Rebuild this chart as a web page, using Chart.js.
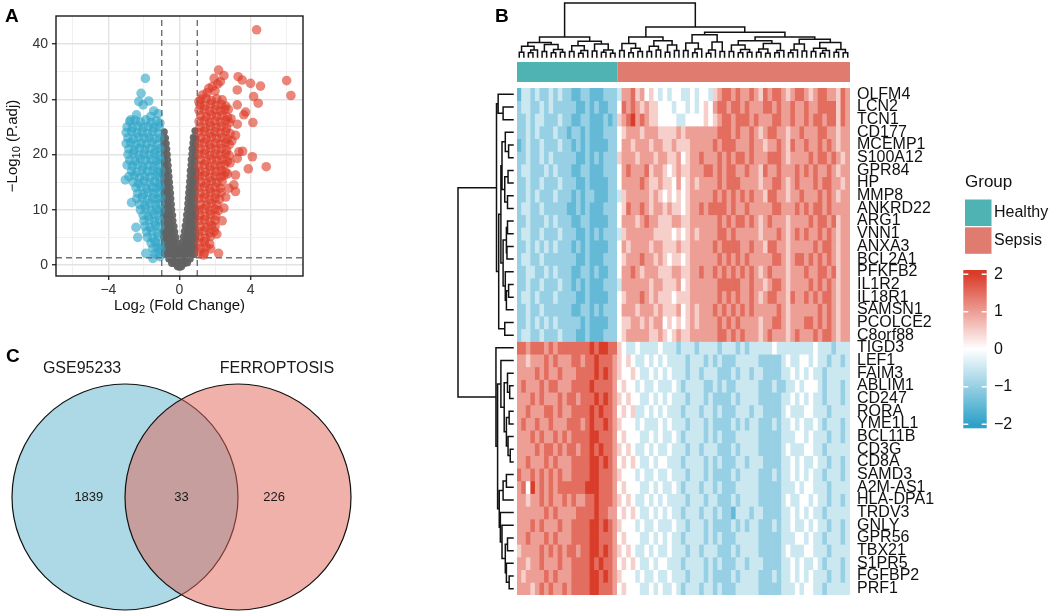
<!DOCTYPE html>
<html>
<head>
<meta charset="utf-8">
<script src="https://cdn.jsdelivr.net/npm/chart.js@4.4.1/dist/chart.umd.min.js"></script>
<style>
  body { margin: 0; background: #fff; width: 1052px; height: 613px; position: relative; overflow: hidden;
         font-family: "Liberation Sans", Arial, sans-serif; }
  canvas { position: absolute; }
  .tag { position: absolute; font-weight: bold; font-size: 19px; line-height: 19px; color: #000; }
</style>
</head>
<body>
<canvas id="volcano" width="320" height="330" style="left:0;top:0;width:320px;height:330px"></canvas>
<canvas id="heat" width="612" height="613" style="left:440px;top:0;width:612px;height:613px"></canvas>
<canvas id="venn" width="440" height="283" style="left:0;top:330px;width:440px;height:283px"></canvas>
<div class="tag" style="left:5px;top:6px">A</div>
<div class="tag" style="left:495px;top:6px">B</div>
<div class="tag" style="left:6px;top:346px">C</div>
<script>
/************** DATA **************/

// A - volcano: [log2 fold change, -log10 adjusted p]
const notSigPts = [
  [-0.86,24.1],[0.87,24.3],
  [-0.79,23.0],[-0.93,22.8],[0.78,23.1],[0.92,22.9],
  [-0.75,22.0],[-0.9,21.8],[0.76,22.1],[0.9,21.9],
  [-0.72,21.0],[-0.88,20.9],[0.71,21.1],[0.88,20.8],
  [-0.69,20.0],[-0.87,19.9],[0.7,20.1],[0.88,19.8],
  [-0.67,19.0],[-0.85,18.9],[0.66,19.1],[0.86,18.9],
  [-0.64,18.0],[-0.83,17.9],[0.65,18.1],[0.84,17.9],
  [-0.62,17.0],[-0.79,16.9],[-0.93,17.1],[0.61,17.1],[0.79,16.9],[0.93,17.0],
  [-0.59,16.0],[-0.77,15.9],[-0.92,16.1],[0.6,16.1],[0.78,15.9],[0.92,16.0],
  [-0.57,15.0],[-0.74,14.9],[-0.9,15.1],[0.57,15.1],[0.75,14.9],[0.9,15.0],
  [-0.54,14.0],[-0.72,13.9],[-0.88,14.1],[0.55,14.1],[0.72,13.9],[0.88,14.0],
  [-0.51,13.0],[-0.69,12.9],[-0.87,13.1],[0.52,13.1],[0.7,12.9],[0.88,13.0],
  [-0.49,12.0],[-0.67,11.9],[-0.86,12.1],[0.5,12.1],[0.68,11.9],[0.86,12.0],
  [-0.46,11.0],[-0.64,10.9],[-0.83,11.1],[0.47,11.1],[0.65,10.9],[0.83,11.0],
  [-0.44,10.0],[-0.61,9.9],[-0.79,10.1],[-0.92,9.9],[0.45,10.1],[0.62,9.9],[0.8,10.0],[0.92,10.1],
  [-0.39,9.0],[-0.57,8.9],[-0.75,9.1],[-0.9,8.9],[0.4,9.1],[0.58,8.9],[0.76,9.0],[0.9,9.1],
  [-0.37,8.0],[-0.54,7.9],[-0.72,8.1],[-0.88,7.9],[0.38,8.1],[0.55,7.9],[0.72,8.0],[0.88,8.1],
  [-0.31,7.0],[-0.49,6.9],[-0.67,7.1],[-0.85,6.9],[0.32,7.1],[0.5,6.9],[0.68,7.0],[0.86,7.1],
  [-0.27,6.0],[-0.44,5.9],[-0.62,6.1],[-0.79,5.9],[-0.92,6.1],[0.28,6.1],[0.45,5.9],[0.63,6.0],[0.8,6.1],[0.92,5.9],
  [-0.21,5.0],[-0.39,4.9],[-0.57,5.1],[-0.74,4.9],[-0.9,5.1],[0.22,5.1],[0.4,4.9],[0.58,5.0],[0.75,5.1],[0.9,4.9],
  [-0.14,4.0],[-0.32,3.9],[-0.49,4.1],[-0.67,3.9],[-0.84,4.1],[0.15,4.1],[0.33,3.9],[0.5,4.0],[0.68,4.1],[0.85,3.9],
  [0.0,3.0],[-0.18,2.9],[-0.35,3.1],[-0.52,2.9],[-0.69,3.1],[-0.85,2.9],[0.18,3.1],[0.35,2.9],[0.53,3.0],[0.7,3.1],[0.85,2.9],
  [0.0,2.0],[-0.15,1.9],[-0.32,2.1],[-0.49,1.9],[-0.65,2.1],[-0.8,1.9],[0.15,2.1],[0.32,1.9],[0.5,2.0],[0.66,2.1],[0.81,1.9],
  [0.0,1.0],[-0.15,0.9],[-0.3,1.1],[-0.45,0.9],[-0.6,1.1],[0.15,1.1],[0.3,0.9],[0.45,1.0],[0.6,1.1],
  [0.0,0.2],[-0.15,0.1],[-0.3,0.3],[-0.44,0.3],[0.15,0.2],[0.3,0.3],[0.45,0.4],
  [0.0,-0.4],[-0.12,-0.3],[0.12,-0.3]
];
const downPts = [
  [-1.92,33.8],[-2.16,31.1],[-2.29,29.6],[-1.73,29.7],[-2.05,29.0],[-1.45,27.9],[-2.42,27.2],[-1.2,27.4],[-1.62,26.9],[-2.75,26.3],
  [-2.8,26.0],[-2.5,26.2],[-2.2,25.9],[-1.9,26.3],[-1.6,25.8],[-1.3,26.1],[-1.1,25.7],
  [-2.95,25.0],[-2.65,24.8],[-2.35,25.2],[-2.05,24.9],[-1.75,25.1],[-1.45,24.8],[-1.15,25.0],
  [-3.0,24.0],[-2.7,24.2],[-2.4,23.9],[-2.1,24.1],[-1.8,23.8],[-1.5,24.2],[-1.2,23.9],
  [-2.9,23.0],[-2.6,22.8],[-2.3,23.2],[-2.0,22.9],[-1.7,23.1],[-1.4,22.8],[-1.1,23.0],
  [-3.0,22.0],[-2.75,22.2],[-2.45,21.8],[-2.15,22.1],[-1.85,21.9],[-1.55,22.2],[-1.25,21.8],
  [-2.85,21.0],[-2.55,20.8],[-2.25,21.2],[-1.95,20.9],[-1.65,21.1],[-1.35,20.8],[-1.1,21.1],
  [-2.9,20.0],[-2.6,20.2],[-2.3,19.8],[-2.0,20.1],[-1.7,19.9],[-1.4,20.2],[-1.15,19.8],
  [-2.8,19.0],[-2.5,18.8],[-2.2,19.2],[-1.9,18.9],[-1.6,19.1],[-1.3,18.8],[-1.1,19.1],
  [-2.95,18.1],[-2.65,17.9],[-2.35,18.2],[-2.05,17.8],[-1.75,18.1],[-1.45,17.9],[-1.2,18.2],
  [-2.7,17.0],[-2.4,16.8],[-2.1,17.2],[-1.8,16.9],[-1.5,17.1],[-1.25,16.8],[-1.05,17.1],
  [-2.85,16.0],[-2.55,16.2],[-2.25,15.8],[-1.95,16.1],[-1.65,15.9],[-1.35,16.2],[-1.1,15.8],
  [-3.05,15.4],[-2.6,15.0],[-2.3,14.8],[-2.0,15.2],[-1.7,14.9],[-1.4,15.1],[-1.15,14.8],
  [-2.45,14.0],[-2.15,14.2],[-1.85,13.8],[-1.55,14.1],[-1.3,13.9],[-1.08,14.2],
  [-2.35,13.0],[-2.05,12.8],[-1.75,13.2],[-1.45,12.9],[-1.2,13.1],
  [-2.4,12.0],[-2.1,12.2],[-1.8,11.8],[-1.5,12.1],[-1.25,11.9],[-1.05,12.2],
  [-2.7,11.3],[-2.25,11.0],[-1.95,10.8],[-1.65,11.2],[-1.35,10.9],[-1.1,11.1],
  [-2.2,10.0],[-1.9,10.2],[-1.6,9.8],[-1.3,10.1],[-1.08,9.9],
  [-2.05,9.0],[-1.75,8.8],[-1.45,9.2],[-1.2,8.9],
  [-2.0,8.0],[-1.7,8.2],[-1.4,7.8],[-1.12,8.1],
  [-2.45,6.8],[-1.95,7.0],[-1.65,6.8],[-1.35,7.2],[-1.1,6.9],
  [-1.85,6.0],[-1.55,6.2],[-1.25,5.8],
  [-2.35,5.0],[-1.8,5.0],[-1.5,4.8],[-1.2,5.2],
  [-1.6,4.0],[-1.35,4.2],[-1.1,3.8],
  [-1.5,3.0],[-1.25,3.2],[-1.05,2.9],
  [-1.9,2.1],[-1.4,2.0],[-1.15,2.2],
  [-1.5,1.2],[-1.1,1.5]
];
const upPts = [
  [4.34,42.6],[6.03,33.4],[6.27,30.7],[2.2,35.3],[2.5,34.3],[3.3,34.1],[3.53,33.5],[4.0,32.9],[4.56,32.4],[3.25,31.7],
  [4.17,30.5],[4.43,29.3],[3.25,29.0],[3.72,27.7],[3.62,27.2],[4.13,25.8],[3.25,25.5],[3.15,23.5],[3.34,20.5],[3.55,20.6],
  [4.1,19.6],[3.25,19.3],[4.88,17.8],[3.87,17.4],[3.15,16.3],[3.06,14.5],[2.78,13.9],[3.15,13.3],[2.5,10.3],[2.2,2.1],
  [1.35,1.8],[1.09,29.6],[1.65,32.0],[2.0,31.5],[2.3,33.2],[2.75,28.2],[2.9,26.5],[2.95,22.5],[2.85,18.5],[2.7,16.5],
  [2.6,12.3],[2.4,8.0],[2.1,5.6],
  [1.3,30.8],[1.55,31.2],[1.85,32.3],[2.15,32.8],[1.95,33.8],
  [1.2,30.0],[1.5,30.2],[1.8,29.8],[2.1,30.1],[2.4,29.9],
  [1.15,29.0],[1.45,28.8],[1.75,29.2],[2.05,28.9],[2.35,29.1],[2.6,28.8],
  [1.1,28.0],[1.4,28.2],[1.7,27.8],[2.0,28.1],[2.3,27.9],[2.55,28.2],
  [1.2,27.0],[1.5,26.8],[1.8,27.2],[2.1,26.9],[2.4,27.1],[2.7,26.8],
  [1.1,26.0],[1.4,26.2],[1.7,25.8],[2.0,26.1],[2.3,25.9],[2.6,26.2],[2.8,25.8],
  [1.15,25.0],[1.45,24.8],[1.75,25.2],[2.05,24.9],[2.35,25.1],[2.65,24.8],
  [1.1,24.0],[1.4,24.2],[1.7,23.8],[2.0,24.1],[2.3,23.9],[2.6,24.2],[2.85,23.8],
  [1.2,23.0],[1.5,22.8],[1.8,23.2],[2.1,22.9],[2.4,23.1],[2.7,22.8],
  [1.1,22.0],[1.4,22.2],[1.7,21.8],[2.0,22.1],[2.3,21.9],[2.6,22.2],[2.8,21.8],
  [1.15,21.0],[1.45,20.8],[1.75,21.2],[2.05,20.9],[2.35,21.1],[2.65,20.8],
  [1.1,20.0],[1.4,20.2],[1.7,19.8],[2.0,20.1],[2.3,19.9],[2.6,20.2],[2.8,19.8],
  [1.2,19.0],[1.5,18.8],[1.8,19.2],[2.1,18.9],[2.4,19.1],[2.7,18.8],
  [1.1,18.0],[1.4,18.2],[1.7,17.8],[2.0,18.1],[2.3,17.9],[2.55,18.2],
  [1.15,17.0],[1.45,16.8],[1.75,17.2],[2.05,16.9],[2.35,17.1],[2.6,16.8],
  [1.1,16.0],[1.4,16.2],[1.7,15.8],[2.0,16.1],[2.3,15.9],[2.5,16.2],
  [1.2,15.0],[1.5,14.8],[1.8,15.2],[2.1,14.9],[2.4,15.1],
  [1.1,14.0],[1.4,14.2],[1.7,13.8],[2.0,14.1],[2.3,13.9],
  [1.15,13.0],[1.45,12.8],[1.75,13.2],[2.05,12.9],[2.35,13.1],
  [1.1,12.0],[1.4,12.2],[1.7,11.8],[2.0,12.1],[2.25,11.9],
  [1.2,11.0],[1.5,10.8],[1.8,11.2],[2.1,10.9],
  [1.1,10.0],[1.4,10.2],[1.7,9.8],[2.0,10.1],[2.2,9.9],
  [1.15,9.0],[1.45,8.8],[1.75,9.2],[2.05,8.9],
  [1.1,8.0],[1.4,8.2],[1.7,7.8],[2.0,8.1],
  [1.2,7.0],[1.5,6.8],[1.8,7.2],[2.0,6.9],
  [1.1,6.0],[1.4,6.2],[1.7,5.8],[1.95,6.1],
  [1.15,5.0],[1.45,4.8],[1.75,5.2],
  [1.1,4.0],[1.4,4.2],[1.7,3.8],
  [1.2,3.0],[1.5,3.2],[1.75,2.9],
  [1.1,2.3],[1.4,2.1]
];
const fcCut = 1;        // |log2FC| threshold
const padjCut = 0.05;   // adjusted p threshold
const xTicks = [-6, -4, -2, 0, 2, 4, 6];
const yTicks = [0, 5, 10, 15, 20, 25, 30, 35, 40];

// B - heatmap
const geneNames = ['OLFM4','LCN2','TCN1','CD177','MCEMP1','S100A12','GPR84','HP','MMP8','ANKRD22',
  'ARG1','VNN1','ANXA3','BCL2A1','PFKFB2','IL1R2','IL18R1','SAMSN1','PCOLCE2','C8orf88',
  'TIGD3','LEF1','FAIM3','ABLIM1','CD247','RORA','YME1L1','BCL11B','CD3G','CD8A',
  'SAMD3','A2M-AS1','HLA-DPA1','TRDV3','GNLY','GPR56','TBX21','S1PR5','FGFBP2','PRF1'];
const groupNames = ['Healthy', 'Sepsis'];
const groupSizes = [22, 51];
// one char per sample, 0..8 -> -2..2 (step 0.5); 22 healthy then 51 sepsis
const heatRows = [
  '13323223232 21122111222 3667564543 4344334344 3567767667 6576776567 76567766576',
  '23322323222 22112121122 4767656554 4434434345 4677677676 6677676676 67667777576',
  '22323322232 21122111212 5678676554 4443344445 4567767776 7666776676 67677677576',
  '22323222322 12212111222 4566656665 5556566666 6677767667 6567766566 76667766566',
  '12322322232 21212111122 4665666566 5565556666 6767776667 6656676576 67667676566',
  '22322323222 22112121222 5666566656 6556456676 6676767767 6667776566 66767767656',
  '23322232322 21122111222 4676667566 5456556667 7676776676 6576676667 67676676566',
  '22322322232 22112111122 4666676556 5546456566 6676777666 6566776567 66676776656',
  '22323222322 21212211122 3566666565 4545456666 6767676767 6657766566 76667676566',
  '23322322222 11212111222 4576676566 5655456676 7777676676 6666776667 67677676666',
  '22322232322 21122111122 4666567665 5566556666 6676767767 6567666566 66767767566',
  '23322322232 22112121222 3566666655 5545456566 6677676666 6566676567 67667676566',
  '22323232322 21212111122 4656666566 5556556666 6767777667 6657766566 66676776566',
  '23322322222 22112111222 4566676656 5455456666 6676767676 6666776567 76767676566',
  '22332232322 21122121122 4667656665 5566556676 6767676767 6567666566 67667767566',
  '22322322232 21212111222 3666666566 5556456666 6677777667 6656776566 66767676566',
  '23323222322 22112111122 4566676565 5545556666 6676767667 6567766576 67676776566',
  '22322322222 21122121222 4666566656 5556456566 6767676767 6666676566 66667676566',
  '22323232322 22212111122 4556656566 4545456566 6676767666 6566776566 67767676566',
  '23322322232 22112111222 4566666556 5456556666 6677676766 6567666567 66676776566',
  '77677767677 77777878877 5433433334 3332333233 3323332323 3333433333 33343332333',
  '66566676766 67767787776 5454334343 4333323332 3232223333 3222223433 44343323323',
  '66667676676 66777787876 5445433434 3433323323 3322232332 3322223343 43433233333',
  '67666767766 67777877776 4544343343 3343233332 2323223333 3222322334 34443233323',
  '66676766676 77677787876 5454433434 3433323332 3222232333 3222223343 43433233323',
  '66766677676 67777878776 4545334343 4333233323 3232223332 3322223433 34433323333',
  '67667667666 77767877876 5444343334 3433323332 3222232323 3222323343 43343233323',
  '66676766767 67777887776 4544433434 3343233332 3232223333 3222223334 43433323323',
  '66667677676 77677878776 5454334343 3433323323 3322232333 3222223433 34433233333',
  '66766676766 67777887876 4545433434 4333233332 3232223323 3322223343 43343323323',
  '76676767676 67777887776 5444343343 3433323332 3222232333 3222323343 43433233323',
  '67486767677 77778887776 4544433434 3343233323 3232223333 3222223334 34433323333',
  '66566767667 67667787776 5454334343 4333323332 3322232333 3222223433 44343323323',
  '66666676766 66777787766 4545433434 3433233323 3232213332 3322223343 43433233333',
  '66676766676 67777887876 5444343343 3343323332 3222232323 3222323343 34343323323',
  '66766676766 67777887776 4544433434 3433233332 3232223333 3222223334 43433233323',
  '56666767676 77677887876 5454334343 3433323323 3322232333 3222223433 34433323333',
  '66566766676 67777878776 4545433434 4333233332 3232223323 3322223343 43343233323',
  '65666676766 67777887876 5444343343 3433323332 3222232333 3222323343 43433323323',
  '66656767667 67777887776 4544433434 3343233323 3232223333 3222223334 34433233333'
];
// dendrograms: [height, child, child, ...], 0 = leaf (leaves in display order)
const colTree = [1.0,
  [0.37,
    [0.27, [0.2, [0.09,0,0], [0.13,[0.08,0,0],0]], [0.23, [0.1,0,0], [0.14,[0.08,0,0],[0.09,0,0]]]],
    [0.29, [0.21, [0.1,0,0], [0.12,[0.07,0,0],0]], [0.24, [0.11,0,0], [0.13,[0.09,0,0],[0.07,0,0]]]]],
  [0.556,
    [0.37,
      [0.25, [0.12,0,0], [0.16,[0.08,0,0],[0.1,0,0]]],
      [0.3, [0.2,[0.1,0,0],[0.13,0,0]], [0.22,[0.09,0,0],[0.12,0,0]]]],
    [0.46,
      [0.41, [0.26,[0.12,0,0],[0.15,[0.08,0,0],0]], [0.28,[0.13,[0.07,0,0],0],[0.1,0,0]]],
      [0.37,
        [0.3, [0.22,[0.1,0,0],[0.14,[0.08,0,0],[0.09,0,0]]], [0.25,[0.15,[0.09,0,0],[0.07,0,0]],[0.12,[0.08,0,0],0]]],
        [0.33, [0.24,[0.13,[0.08,0,0],0],[0.11,0,0]], [0.27,[0.16,[0.1,0,0],[0.12,[0.07,0,0],0]],[0.14,[0.09,0,0],[0.08,0,0]]]]]]]
];
const rowTree = [1.0,
  [0.3,
    [0.27, 0, [0.18,0,0]],
    [0.26,
      [0.22,
        [0.2, [0.14,0,[0.08,0,0]], [0.15,[0.09,0,0],[0.1,0,0]]],
        [0.18, [0.12,[0.1,0,0],[0.11,0,0]], [0.14,0,[0.12,[0.08,0,0],0]]]],
      [0.15,0,0]]],
  [0.31, 0,
    [0.28,
      [0.22, 0, [0.16, [0.1,0,[0.06,0,0]], [0.12,[0.07,0,0],[0.09,0,[0.05,0,0]]]]],
      [0.25, [0.18,[0.12,0,0],0], [0.23,0,[0.2,0,[0.14,[0.1,0,0],[0.12,0,[0.07,0,0]]]]]]]]
];
const colorTicks = [2, 1, 0, -1, -2];

// C - venn
const vennSets = ['GSE95233', 'FERROPTOSIS'];
const vennCounts = [1839, 33, 226];   // only GSE95233, both, only FERROPTOSIS


/************** HELPERS **************/
Chart.defaults.font.family = '"Liberation Sans", Arial, sans-serif';
Chart.defaults.animation = false;

const FONT = '"Liberation Sans", Arial, sans-serif';
const toXY = arr => arr.map(p => ({x: p[0], y: p[1]}));
const minus = v => (v < 0 ? '\u2212' + Math.abs(v) : String(v));

const lowRGB = [47, 161, 200], highRGB = [218, 60, 42];
function heatColor(v) {
  v = Math.max(-2, Math.min(2, v));
  const t = Math.abs(v) / 2, c = v < 0 ? lowRGB : highRGB;
  const m = k => Math.round(255 + (c[k] - 255) * t);
  return 'rgb(' + m(0) + ',' + m(1) + ',' + m(2) + ')';
}

function drawSubText(ctx, parts, cx, cy) {
  ctx.textBaseline = 'middle';
  ctx.textAlign = 'left';
  let total = 0;
  parts.forEach(p => { ctx.font = p[1] + 'px ' + FONT; total += ctx.measureText(p[0]).width; });
  let x = cx - total / 2;
  parts.forEach(p => {
    ctx.font = p[1] + 'px ' + FONT;
    ctx.fillText(p[0], x, cy + p[2]);
    x += ctx.measureText(p[0]).width;
  });
}

// walk a tree, collect segments [pos1, h1, pos2, h2]
function walkTree(node, counter, segs) {
  if (!Array.isArray(node)) return {p: counter.n++, h: 0};
  const h = node[0];
  const kids = node.slice(1).map(k => walkTree(k, counter, segs));
  kids.forEach(k => segs.push([k.p, k.h, k.p, h]));
  segs.push([kids[0].p, h, kids[kids.length - 1].p, h]);
  return {p: (kids[0].p + kids[kids.length - 1].p) / 2, h: h};
}


/************** A: VOLCANO **************/
const xMin = -6.95, xMax = 6.95, yMin = -2, yMax = 45.1;
const padjLine = -Math.log10(padjCut);

const volcanoDeco = {
  id: 'volcanoDeco',
  afterDatasetsDraw(chart) {
    const {ctx, chartArea: a} = chart;
    ctx.save();
    ctx.strokeStyle = '#1a1a1a';
    ctx.lineWidth = 1.4;
    ctx.strokeRect(a.left, a.top, a.right - a.left, a.bottom - a.top);
    ctx.restore();
  },
  afterDraw(chart) {
    const {ctx, chartArea: a} = chart;
    ctx.save();
    ctx.fillStyle = '#111';
    drawSubText(ctx, [['Log', 15, 0], ['2', 11, 4], [' (Fold Change)', 15, 0]], (a.left + a.right) / 2, 306);
    ctx.translate(13, (a.top + a.bottom) / 2);
    ctx.rotate(-Math.PI / 2);
    drawSubText(ctx, [['\u2212Log', 15, 0], ['10', 11, 4], [' (P.adj)', 15, 0]], 0, 0);
    ctx.restore();
  }
};

function cutLine(p1, p2) {
  return {data: [p1, p2], showLine: true, pointRadius: 0, borderColor: '#707070', borderWidth: 1.4,
          borderDash: [6, 4], order: 0};
}

new Chart(document.getElementById('volcano'), {
  type: 'scatter',
  data: {
    datasets: [
      {data: toXY(notSigPts), backgroundColor: 'rgba(98,98,98,0.95)', pointRadius: 3.6, borderWidth: 0, order: 2},
      {data: toXY(downPts), backgroundColor: 'rgba(50,166,200,0.62)', pointRadius: 4.8, borderWidth: 0, order: 1},
      {data: toXY(upPts), backgroundColor: 'rgba(221,60,40,0.62)', pointRadius: 4.8, borderWidth: 0, order: 1},
      cutLine({x: -fcCut, y: yMin}, {x: -fcCut, y: yMax}),
      cutLine({x: fcCut, y: yMin}, {x: fcCut, y: yMax}),
      cutLine({x: xMin, y: padjLine}, {x: xMax, y: padjLine})
    ]
  },
  options: {
    responsive: false,
    events: [],
    layout: {padding: {top: 16, right: 17, left: 0, bottom: 0}},
    plugins: {legend: {display: false}, tooltip: {enabled: false}},
    scales: {
      x: {
        type: 'linear', min: xMin, max: xMax,
        afterBuildTicks: s => { s.ticks = xTicks.map(v => ({value: v})); },
        afterFit: s => { s.height = 54; },
        border: {display: false},
        grid: {
          color: c => (c.tick && c.tick.value % 4 === 0 ? '#e3e3e3' : '#eeeeee'),
          lineWidth: c => (c.tick && c.tick.value % 4 === 0 ? 1.4 : 0.9),
          tickLength: 4,
          tickColor: c => (c.tick && c.tick.value % 4 === 0 ? '#333' : 'rgba(0,0,0,0)')
        },
        ticks: {callback: v => (v % 4 === 0 ? minus(v) : ''), font: {size: 14}, color: '#333',
                padding: 2, maxRotation: 0, autoSkip: false}
      },
      y: {
        type: 'linear', min: yMin, max: yMax,
        afterBuildTicks: s => { s.ticks = yTicks.map(v => ({value: v})); },
        afterFit: s => { s.width = 56; },
        border: {display: false},
        grid: {
          color: c => (c.tick && c.tick.value % 10 === 0 ? '#e3e3e3' : '#eeeeee'),
          lineWidth: c => (c.tick && c.tick.value % 10 === 0 ? 1.4 : 0.9),
          tickLength: 4,
          tickColor: c => (c.tick && c.tick.value % 10 === 0 ? '#333' : 'rgba(0,0,0,0)')
        },
        ticks: {callback: v => (v % 10 === 0 ? String(v) : ''), font: {size: 14}, color: '#333',
                padding: 4, autoSkip: false}
      }
    }
  },
  plugins: [volcanoDeco]
});


/************** B: HEATMAP **************/
const heatValues = heatRows.map(r => r.replace(/ /g, '').split('').map(c => (Number(c) - 4) / 2));
const sampleLabels = [];
groupSizes.forEach((n, g) => { for (let i = 1; i <= n; i++) sampleLabels.push(groupNames[g] + ' ' + i); });
const groupColors = ['#4fb3b3', '#e07b6f'];

const colSegs = [], rowSegs = [];
walkTree(colTree, {n: 0}, colSegs);
walkTree(rowTree, {n: 0}, rowSegs);

const heatDeco = {
  id: 'heatDeco',
  afterDraw(chart) {
    const {ctx, chartArea: a} = chart;
    const xs = chart.scales.x, ys = chart.scales.y;
    const cw = xs.getPixelForValue(1) - xs.getPixelForValue(0);
    ctx.save();

    // group annotation bar
    let start = 0;
    groupSizes.forEach((n, g) => {
      const x0 = xs.getPixelForValue(start) - cw / 2;
      const x1 = xs.getPixelForValue(start + n - 1) + cw / 2;
      ctx.fillStyle = groupColors[g];
      ctx.fillRect(x0, a.top - 26, x1 - x0, 20);
      start += n;
    });

    // dendrograms
    ctx.strokeStyle = '#111';
    ctx.lineWidth = 1.5;
    ctx.lineCap = 'square';
    const cBase = a.top - 31, cSpan = 54;
    ctx.beginPath();
    colSegs.forEach(s => {
      ctx.moveTo(xs.getPixelForValue(s[0]), cBase - s[1] * cSpan);
      ctx.lineTo(xs.getPixelForValue(s[2]), cBase - s[3] * cSpan);
    });
    ctx.stroke();
    const rBase = a.left - 4, rSpan = 55;
    ctx.beginPath();
    rowSegs.forEach(s => {
      ctx.moveTo(rBase - s[1] * rSpan, ys.getPixelForValue(s[0] + 0.5));
      ctx.lineTo(rBase - s[3] * rSpan, ys.getPixelForValue(s[2] + 0.5));
    });
    ctx.stroke();

    // group legend
    ctx.fillStyle = '#111';
    ctx.textAlign = 'left';
    ctx.textBaseline = 'alphabetic';
    ctx.font = '17px ' + FONT;
    ctx.fillText('Group', 525, 187);
    groupNames.forEach((g, i) => {
      ctx.fillStyle = groupColors[i];
      ctx.fillRect(525, 199.5 + i * 27.8, 26.5, 26.5);
      ctx.fillStyle = '#111';
      ctx.font = '16px ' + FONT;
      ctx.textBaseline = 'middle';
      ctx.fillText(g, 554, 213 + i * 27.8);
    });

    // colour bar
    const bTop = 270, bBot = 428.3, bx = 523.3, bw = 23.4, vTop = 2.11, vBot = -2.11;
    const grad = ctx.createLinearGradient(0, bTop, 0, bBot);
    for (let k = 0; k <= 40; k++) grad.addColorStop(k / 40, heatColor(vTop - (vTop - vBot) * k / 40));
    ctx.fillStyle = grad;
    ctx.fillRect(bx, bTop, bw, bBot - bTop);
    ctx.strokeStyle = '#fff';
    ctx.lineWidth = 1.5;
    ctx.lineCap = 'butt';
    ctx.font = '16px ' + FONT;
    ctx.textBaseline = 'middle';
    colorTicks.forEach(v => {
      const y = bTop + (vTop - v) / (vTop - vBot) * (bBot - bTop);
      ctx.beginPath();
      ctx.moveTo(bx, y); ctx.lineTo(bx + 5, y);
      ctx.moveTo(bx + bw - 5, y); ctx.lineTo(bx + bw, y);
      ctx.stroke();
      ctx.fillStyle = '#111';
      ctx.fillText(minus(v), 554, y);
    });
    ctx.restore();
  }
};

new Chart(document.getElementById('heat'), {
  type: 'bar',
  data: {
    labels: sampleLabels,
    datasets: geneNames.map((g, r) => ({
      label: g,
      data: heatValues[r].map(() => 1),
      backgroundColor: heatValues[r].map(heatColor),
      borderWidth: 0,
      barPercentage: 1,
      categoryPercentage: 1,
      yAxisID: 'y'
    }))
  },
  options: {
    responsive: false,
    events: [],
    layout: {padding: {left: 77, top: 88, bottom: 18, right: 82}},
    plugins: {legend: {display: false}, tooltip: {enabled: false}},
    scales: {
      x: {stacked: true, display: false},
      y: {stacked: true, display: false, min: 0, max: geneNames.length, reverse: true},
      genes: {
        type: 'category', labels: geneNames, position: 'right', offset: true,
        afterFit: s => { s.width = 120; },
        grid: {display: false, drawTicks: false, tickLength: 0},
        border: {display: false},
        ticks: {autoSkip: false, font: {size: 16}, color: '#111', padding: 7}
      }
    }
  },
  plugins: [heatDeco]
});


/************** C: VENN **************/
const vennR = 1;                       // circle radius (axis units)
const vennCentres = [-0.5, 0.5];
const vennTitleX = [-0.88, 0.845], vennTitleY = 1.133;
const vennCountX = [-0.82, 0, 0.82];

const vennText = {
  id: 'vennText',
  afterDatasetsDraw(chart) {
    const {ctx} = chart, xs = chart.scales.x, ys = chart.scales.y;
    ctx.save();
    ctx.fillStyle = '#1a1a1a';
    ctx.textAlign = 'center';
    ctx.textBaseline = 'middle';
    ctx.font = '16px ' + FONT;
    vennSets.forEach((s, i) => ctx.fillText(s, xs.getPixelForValue(vennTitleX[i]), ys.getPixelForValue(vennTitleY)));
    ctx.font = '13px ' + FONT;
    vennCounts.forEach((c, i) => ctx.fillText(String(c), xs.getPixelForValue(vennCountX[i]), ys.getPixelForValue(0)));
    ctx.restore();
  }
};
const radiusPx = c => {
  const s = c.chart.scales.x;
  return s ? Math.abs(s.getPixelForValue(vennR) - s.getPixelForValue(0)) : 0;
};

new Chart(document.getElementById('venn'), {
  type: 'scatter',
  data: {
    datasets: [
      {label: vennSets[0], data: [{x: vennCentres[0], y: 0}], pointRadius: radiusPx,
       backgroundColor: 'rgb(173,216,230)', borderColor: '#111', borderWidth: 1.2, order: 2, clip: false},
      {label: vennSets[1], data: [{x: vennCentres[1], y: 0}], pointRadius: radiusPx,
       backgroundColor: 'rgba(225,100,85,0.5)', borderColor: '#111', borderWidth: 1.2, order: 1, clip: false}
    ]
  },
  options: {
    responsive: false,
    events: [],
    layout: {padding: 0},
    plugins: {legend: {display: false}, tooltip: {enabled: false}},
    scales: {
      x: {type: 'linear', display: false, min: -181.5 / 113, max: (440 - 181.5) / 113},
      y: {type: 'linear', display: false, min: -(283 - 167) / 113, max: 167 / 113}
    }
  },
  plugins: [vennText]
});
</script>
</body>
</html>
